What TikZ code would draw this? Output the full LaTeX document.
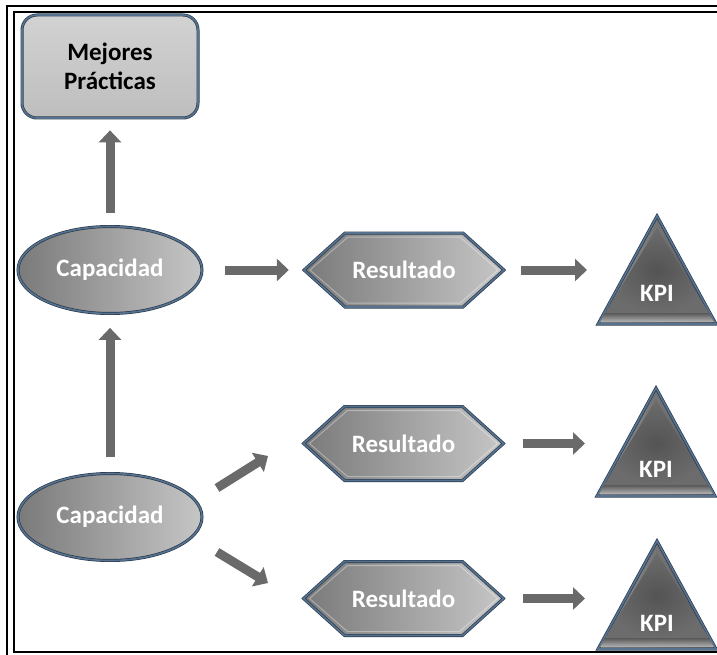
\documentclass[tikz,border=0pt]{standalone}
\usepackage{fontspec}
\setmainfont{Carlito}
\usetikzlibrary{arrows.meta,shapes.geometric}

\definecolor{arrowgray}{HTML}{6A6A6A}
\definecolor{edgeblue}{HTML}{56728F}
\definecolor{edgedark}{HTML}{2A3B4D}
\definecolor{shapedark}{HTML}{7A7A7A}
\definecolor{shapelight}{HTML}{C6C6C6}
\definecolor{boxlight}{HTML}{D2D2D2}
\definecolor{boxmid}{HTML}{BEBEBE}
\definecolor{tricore}{HTML}{545454}
\definecolor{triedge}{HTML}{6C6C6C}
\definecolor{bevellight}{HTML}{B4B4B4}
\definecolor{beveldark}{HTML}{585858}

\tikzset{
  bigfont/.style={font=\fontsize{25}{29}\selectfont\bfseries},
  outline/.style={draw=edgedark, double=edgeblue, line width=0.7pt, double distance=1.6pt},
  bestbox/.style={bigfont, outline, rounded corners=15pt, top color=boxlight, bottom color=boxmid,
    minimum width=176pt, minimum height=103pt, inner sep=0pt, align=center, text=black},
  capoval/.style={bigfont, ellipse, outline, left color=shapedark, right color=shapelight,
    minimum width=184pt, minimum height=87pt, inner sep=0pt, text=white},
  whitelabel/.style={bigfont, text=white, inner sep=0pt},
  hexlabel/.style={whitelabel, minimum width=200pt, minimum height=74pt},
  kpilabel/.style={whitelabel, minimum width=118pt},
  bigarrow/.style={draw=arrowgray, line width=9pt,
    -{Triangle[width=22pt,length=12pt]}},
  framerule/.style={draw=black, line width=2.6pt},
  % elongated hexagon, centred on the pic origin
  hexagon/.pic={
    \path[outline, left color=shapedark, right color=shapelight]
      (-100,0) -- (-59,-37) -- (59,-37) -- (100,0) -- (59,37) -- (-59,37) -- cycle;
    \path[draw=white, opacity=0.35, line width=1pt]
      (-94,0) -- (-56,-33) -- (56,-33) -- (94,0) -- (56,33) -- (-56,33) -- cycle;
  },
  % bevelled triangle, apex at the pic origin
  kpitri/.pic={
    \path[outline, left color=bevellight!80!black, right color=beveldark]
      (0,0) -- (59,108) -- (-59,108) -- cycle;
    \path[top color=beveldark, bottom color=bevellight]
      (-52,97) -- (52,97) -- (57,106) -- (-57,106) -- cycle;
    \path[inner color=tricore, outer color=triedge] (0,12) -- (52,97) -- (-52,97) -- cycle;
  },
}

\begin{document}
\begin{tikzpicture}[x=1pt, y=-1pt]
\useasboundingbox (0,0) rectangle (717,655);

% double frame, open to the right
\draw[framerule] (7,660) -- (7,6) -- (720,6);
\draw[framerule] (720,652) -- (14,652) -- (14,12) -- (720,12);

% nodes
\node[bestbox] (mp) at (110,66.5) {Mejores\\Prácticas};
\node[capoval] (cap1) at (110,270) {Capacidad};
\node[capoval] (cap2) at (110,517) {Capacidad};

\pic at (404,270) {hexagon};
\node[hexlabel] (res1) at (404,270) {Resultado};
\pic at (403.5,443.5) {hexagon};
\node[hexlabel] (res2) at (403.5,443.5) {Resultado};
\pic at (403.5,598.5) {hexagon};
\node[hexlabel] (res3) at (403.5,598.5) {Resultado};

\pic at (657,216) {kpitri};
\node[kpilabel] (kpi1) at (657,293) {KPI};
\pic at (656,388) {kpitri};
\node[kpilabel] (kpi2) at (656,469) {KPI};
\pic at (657,541) {kpitri};
\node[kpilabel] (kpi3) at (657,623) {KPI};

% free ends of the slanted arrows
\coordinate (up-tail) at (217,488);
\coordinate (up-head) at (268,456);
\coordinate (dn-tail) at (217,552);
\coordinate (dn-head) at (268,583);

% connectors
\draw[bigarrow, shorten <=13pt, shorten >=12pt] (cap1) -- (mp);
\draw[bigarrow, shorten <=16pt, shorten >=14pt] (cap2) -- (cap1);
\draw[bigarrow, shorten <=23pt, shorten >=15pt] (cap1) -- (res1);
\draw[bigarrow, shorten <=17pt, shorten >=70pt] (res1) -- (res1 -| kpi1);
\draw[bigarrow] (up-tail) -- (up-head);
\draw[bigarrow] (dn-tail) -- (dn-head);
\draw[bigarrow, shorten <=19pt, shorten >=71pt] (res2) -- (res2 -| kpi2);
\draw[bigarrow, shorten <=19pt, shorten >=72pt] (res3) -- (res3 -| kpi3);
\end{tikzpicture}
\end{document}
